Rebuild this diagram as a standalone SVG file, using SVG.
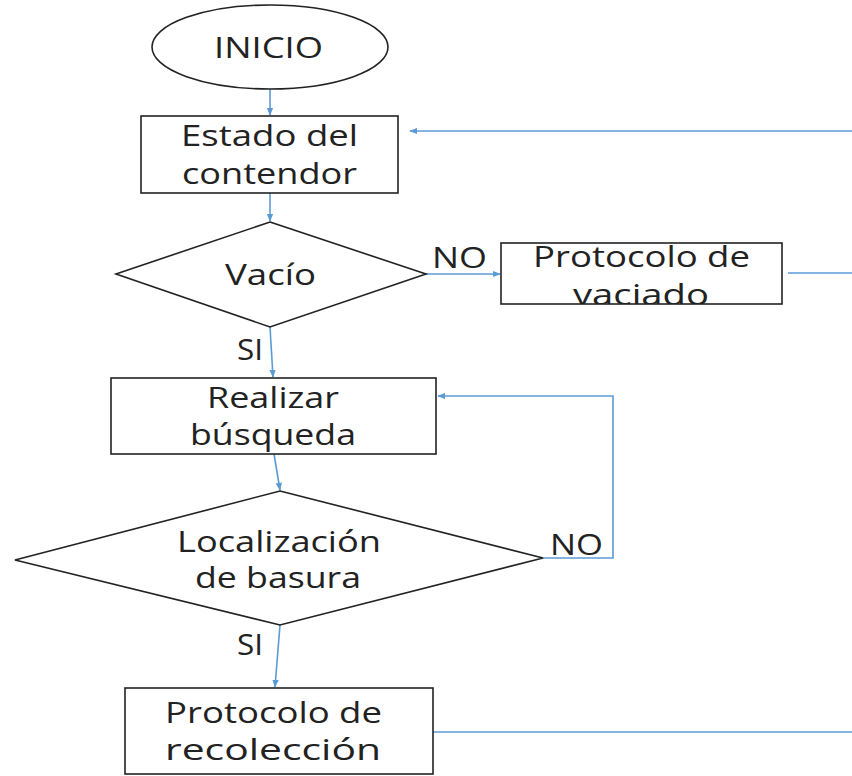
<svg xmlns="http://www.w3.org/2000/svg" width="852" height="776" viewBox="0 0 852 776">
<defs>
<style>
.shape{fill:#fff;stroke:#222;stroke-width:1.6}
.t{font-family:"Open Sans","Liberation Sans",sans-serif;font-size:29px;fill:#222}
.c{fill:none;stroke:#5B9BD5;stroke-width:1.6}
</style>
<marker id="ah" viewBox="0 0 10 10" refX="9" refY="5" markerWidth="5" markerHeight="5" orient="auto">
<path d="M0,1 L10,5 L0,9 z" fill="#5B9BD5"/>
</marker>
<clipPath id="clipVac"><rect x="495" y="236" width="295" height="68"/></clipPath>
</defs>
<rect width="852" height="776" fill="#fff"/>
<g id="connectors">
<line class="c" x1="270" y1="89" x2="270" y2="115" marker-end="url(#ah)"/>
<line class="c" x1="270" y1="193" x2="270" y2="221" marker-end="url(#ah)"/>
<line class="c" x1="852" y1="131" x2="410" y2="131" marker-end="url(#ah)"/>
<line class="c" x1="426" y1="274" x2="500" y2="274" marker-end="url(#ah)"/>
<line class="c" x1="788" y1="273" x2="852" y2="273"/>
<line class="c" x1="270" y1="327" x2="273" y2="377" marker-end="url(#ah)"/>
<line class="c" x1="274" y1="454" x2="280" y2="490" marker-end="url(#ah)"/>
<polyline class="c" points="543,558 613,558 613,396 438,396" marker-end="url(#ah)"/>
<line class="c" x1="280" y1="625" x2="275" y2="687" marker-end="url(#ah)"/>
<line class="c" x1="433" y1="732" x2="852" y2="732"/>
</g>
<g id="inicio">
<ellipse class="shape" cx="270" cy="47" rx="118" ry="42"/>
<text class="t" x="214" y="58" textLength="109" lengthAdjust="spacingAndGlyphs">INICIO</text>
</g>
<g id="estado">
<rect class="shape" x="141" y="116" width="257" height="77"/>
<text class="t" x="181" y="146" textLength="177" lengthAdjust="spacingAndGlyphs">Estado del</text>
<text class="t" x="182" y="184" textLength="175" lengthAdjust="spacingAndGlyphs">contendor</text>
</g>
<g id="vacio">
<polygon class="shape" points="270,222 426,274 270,327 116,274"/>
<text class="t" x="225" y="285" textLength="91" lengthAdjust="spacingAndGlyphs">Vacío</text>
</g>
<g id="vaciado">
<rect class="shape" x="501" y="243" width="281" height="61"/>
<text class="t" x="533" y="267" textLength="217" lengthAdjust="spacingAndGlyphs">Protocolo de</text>
<text class="t" x="573" y="305" textLength="136" lengthAdjust="spacingAndGlyphs" clip-path="url(#clipVac)">vaciado</text>
</g>
<g id="busqueda">
<rect class="shape" x="111" y="378" width="325" height="76"/>
<text class="t" x="207" y="408" textLength="132" lengthAdjust="spacingAndGlyphs">Realizar</text>
<text class="t" x="190" y="445" textLength="166" lengthAdjust="spacingAndGlyphs">búsqueda</text>
</g>
<g id="localizacion">
<polygon class="shape" points="280,491 543,558 280,625 15,560"/>
<text class="t" x="177" y="552" textLength="204" lengthAdjust="spacingAndGlyphs">Localización</text>
<text class="t" x="195" y="588" textLength="166" lengthAdjust="spacingAndGlyphs">de basura</text>
</g>
<g id="recoleccion">
<rect class="shape" x="125" y="688" width="308" height="86"/>
<text class="t" x="165" y="723" textLength="217" lengthAdjust="spacingAndGlyphs">Protocolo de</text>
<text class="t" x="165" y="760" textLength="216" lengthAdjust="spacingAndGlyphs">recolección</text>
</g>
<g id="labels">
<text class="t" x="432" y="268" textLength="55" lengthAdjust="spacingAndGlyphs">NO</text>
<text class="t" x="237" y="360" textLength="26" lengthAdjust="spacingAndGlyphs">SI</text>
<text class="t" x="550" y="555" textLength="53" lengthAdjust="spacingAndGlyphs">NO</text>
<text class="t" x="237" y="655" textLength="26" lengthAdjust="spacingAndGlyphs">SI</text>
</g>
</svg>
